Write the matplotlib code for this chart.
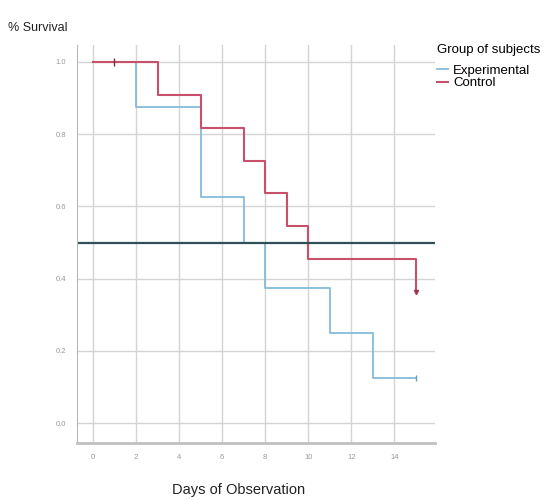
import matplotlib.pyplot as plt
import numpy as np

# Kaplan-Meier step data
exp_days = [0, 2, 5, 7, 8, 11, 13, 15]
exp_surv = [1.0, 0.875, 0.625, 0.5, 0.375, 0.25, 0.125, 0.125]
exp_censor_days = [15]
exp_censor_surv = [0.125]

ctl_days = [0, 3, 5, 7, 8, 9, 10, 15]
ctl_surv = [1.0, 0.909, 0.818, 0.727, 0.636, 0.545, 0.4545, 0.364]
ctl_censor_days = [1, 15]
ctl_censor_surv = [1.0, 0.364]

median_line = 0.5
xticks = [0, 2, 4, 6, 8, 10, 12, 14]
yticks = [0.0, 0.2, 0.4, 0.6, 0.8, 1.0]

exp_color = '#86bcd9'
ctl_color = '#c8506a'

plt.rcParams['font.family'] = ['Liberation Sans', 'DejaVu Sans']

fig = plt.figure(figsize=(5.48, 5.0), dpi=100)
ax = fig.add_axes([0.1405, 0.114, 0.654, 0.796])

ax.step(exp_days, exp_surv, where='post', color=exp_color, linewidth=1.3, label='Experimental')
ax.step(ctl_days, ctl_surv, where='post', color=ctl_color, linewidth=1.5, label='Control')
ax.plot(exp_censor_days, exp_censor_surv, linestyle='none', marker='|', color='#6f9fb8', markersize=5)
ax.plot(ctl_censor_days[:1], ctl_censor_surv[:1], linestyle='none', marker='|', color='#7a3040', markersize=6)
ax.plot(ctl_censor_days[1:], ctl_censor_surv[1:], linestyle='none', marker='v', color='#9a3a50', markersize=3)
ax.axhline(median_line, color='#2f5058', linewidth=1.6)

ax.set_xlim(-0.74, 15.9)
ax.set_ylim(-0.055, 1.047)
ax.set_xticks(xticks)
ax.set_yticks(yticks)
ax.set_xticklabels([str(t) for t in xticks])
ax.set_yticklabels(['%.1f' % t for t in yticks])
ax.tick_params(axis='both', labelsize=5.5, colors='#999999', length=0, pad=8)
ax.grid(True, color='#d4d4d4', linewidth=1.0)
ax.set_axisbelow(True)
for s in ['top', 'right']:
    ax.spines[s].set_visible(False)
ax.spines['left'].set_color('#b8b8b8')
ax.spines['bottom'].set_color('#c0c0c0')
ax.spines['bottom'].set_linewidth(2)

fig.text(0.015, 0.944, '% Survival', fontsize=9, color='#222222', ha='left', va='center')
fig.text(0.435, 0.02, 'Days of Observation', fontsize=10.5, color='#222222', ha='center', va='center')

leg = ax.legend(title='Group of subjects', loc='upper left', bbox_to_anchor=(0.99, 1.015),
                frameon=False, fontsize=9.5, title_fontsize=9.5, handlelength=0.8,
                handletextpad=0.4, labelspacing=0.02, borderaxespad=0)
leg._legend_box.align = 'left'
leg._legend_box.sep = 6

plt.savefig('out.png', dpi=100)
